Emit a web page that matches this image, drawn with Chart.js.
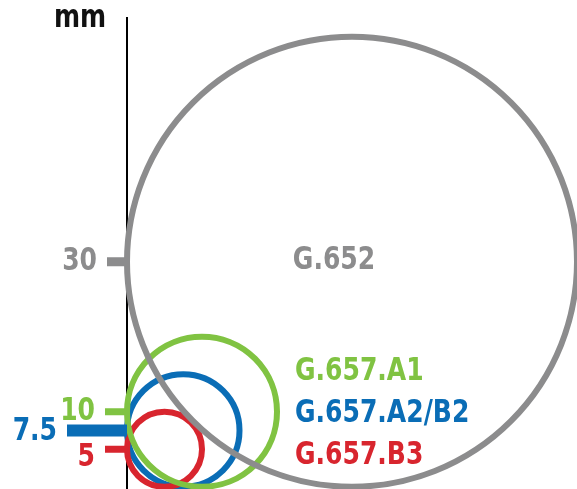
<!DOCTYPE html>
<html>
<head>
<meta charset="utf-8">
<script src="https://cdn.jsdelivr.net/npm/chart.js@4"></script>
<style>
  html, body { margin: 0; padding: 0; background: #fff; }
  #wrap { width: 577px; height: 489px; }
</style>
</head>
<body>
<div id="wrap"><canvas id="bendChart"></canvas></div>
<script>
// Bend radius per fibre type (mm)
const fibreTypes = ['G.652', 'G.657.A1', 'G.657.A2/B2', 'G.657.B3'];
const bendRadii = [30, 10, 7.5, 5];
const tickValues = [30, 10, 7.5, 5];
const tickLabels = ['30', '10', '7.5', '5'];

const colors = ['#8c8c8d', '#80c342', '#0a6db6', '#d8252e'];
const tickLen = [20, 22, 60, 22];
const tickThick = [9, 7, 12, 7];
const labelShift = [0, 0, 1, 8];
const FONT = "bold 32px 'DejaVu Sans Condensed', 'DejaVu Sans', sans-serif";
const SQUEEZE = 0.87;
const PX_PER_MM = 7.5;

function pxRadius(ctx) {
  const y = ctx.chart.scales.y;
  return y.getPixelForValue(0) - y.getPixelForValue(ctx.raw.y);
}

// condensed-looking text
function text(ctx, str, x, y, align) {
  ctx.save();
  ctx.translate(x, y);
  ctx.scale(SQUEEZE, 1);
  ctx.textAlign = align;
  ctx.fillText(str, 0, 0);
  ctx.restore();
}

const decor = {
  id: 'decor',
  afterDraw(chart) {
    const { ctx, chartArea, scales: { x, y } } = chart;
    ctx.save();
    ctx.font = FONT;
    ctx.textBaseline = 'middle';

    // y ticks: coloured bars + labels
    tickValues.forEach((v, i) => {
      const py = y.getPixelForValue(v);
      ctx.fillStyle = colors[i];
      ctx.fillRect(chartArea.left - tickLen[i], py - tickThick[i] / 2, tickLen[i], tickThick[i]);
      text(ctx, tickLabels[i], chartArea.left - tickLen[i] - 10, py + labelShift[i], 'right');
    });

    // unit
    ctx.fillStyle = '#111';
    text(ctx, 'mm', chartArea.left - 47, 19, 'center');

    // series names
    ctx.fillStyle = colors[0];
    text(ctx, fibreTypes[0], x.getPixelForValue(bendRadii[0]) - 18, y.getPixelForValue(bendRadii[0]) - 1, 'center');
    for (let i = 1; i < fibreTypes.length; i++) {
      ctx.fillStyle = colors[i];
      text(ctx, fibreTypes[i], chartArea.left + 168, chartArea.bottom - 117 + (i - 1) * 42, 'left');
    }
    ctx.restore();
  }
};

const drawOrder = [0, 1, 3, 2];

const ctx1 = document.getElementById('bendChart').getContext('2d');
const bendChart = new Chart(ctx1, {
  type: 'scatter',
  data: {
    datasets: fibreTypes.map((name, i) => ({
      label: name,
      data: [{ x: bendRadii[i], y: bendRadii[i] }],
      pointStyle: 'circle',
      pointRadius: pxRadius,
      pointBackgroundColor: 'rgba(0,0,0,0)',
      pointBorderColor: colors[i],
      pointBorderWidth: 6,
      order: drawOrder[i],
      clip: false
    }))
  },
  options: {
    responsive: true,
    maintainAspectRatio: false,
    animation: false,
    events: [],
    layout: { padding: { top: 18, right: 0, bottom: 0, left: 0 } },
    plugins: { legend: { display: false }, tooltip: { enabled: false } },
    scales: {
      x: {
        display: false,
        min: 0,
        max: 450 / PX_PER_MM
      },
      y: {
        min: -0.3,
        max: 471 / PX_PER_MM - 0.3,
        ticks: { display: false },
        grid: { display: false, drawTicks: false },
        border: { display: true, color: '#000', width: 2 },
        afterFit(scale) { scale.width = 127; }
      }
    }
  },
  plugins: [decor]
});
</script>
</body>
</html>
